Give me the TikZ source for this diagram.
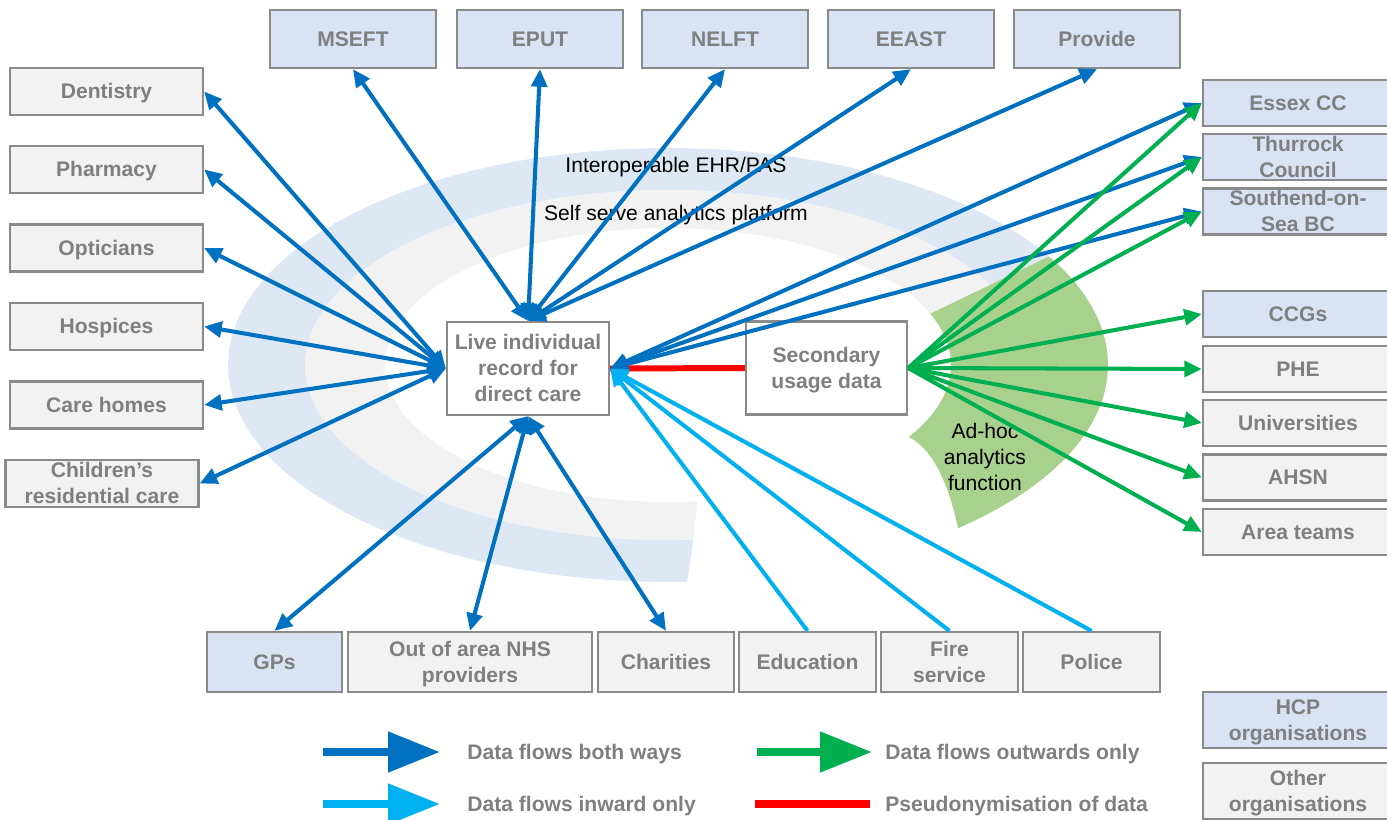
\documentclass[tikz,border=0pt]{standalone}
\usepackage{fontspec}
\setmainfont{Liberation Sans}
\usetikzlibrary{arrows.meta}
\newlength{\pu}\setlength{\pu}{0.02cm}
\newcommand{\lnstrut}{\rule[-0.212em]{0pt}{1.117em}}
\definecolor{hcpfill}{HTML}{DAE3F3}
\definecolor{othfill}{HTML}{F2F2F2}
\definecolor{boxline}{HTML}{8A8A8A}
\definecolor{boxtext}{HTML}{7F7F7F}
\definecolor{flowblue}{HTML}{0070C0}
\definecolor{flowcyan}{HTML}{00B0F0}
\definecolor{flowgreen}{HTML}{00B050}
\definecolor{pseudored}{HTML}{FF0000}
\definecolor{bandblue}{HTML}{DEE8F5}
\definecolor{bandgray}{HTML}{F2F2F2}
\definecolor{adhoc}{HTML}{A9D18E}
\tikzset{
  ppt/.style={execute at begin node=\lnstrut, execute at end node=\lnstrut},
  org/.style={ppt, draw=boxline, line width=1.3pt, inner xsep=0pt, inner ysep=-2pt,
              align=center, text=boxtext, font=\bfseries\fontsize{12}{14.8}\selectfont},
  hcp/.style={org, fill=hcpfill},
  other/.style={org, fill=othfill},
  core/.style={org, fill=white, minimum width=162\pu, minimum height=93\pu},
  toprow/.style={minimum width=166\pu, minimum height=58\pu},
  leftcol/.style={minimum width=193\pu, minimum height=47\pu},
  rightcol/.style={minimum width=190\pu, minimum height=46\pu},
  botrow/.style={minimum height=60\pu},
  both/.style={flowblue, line width=2.3pt, <->},
  inward/.style={flowcyan, line width=2.3pt, ->},
  outward/.style={flowgreen, line width=2.3pt, ->},
  pseudo/.style={pseudored, line width=3.4pt},
  keyarrow/.style={line width=0.16cm, -{Triangle[length=1.04cm,width=0.78cm]}},
  note/.style={ppt, align=center, inner sep=0pt, font=\fontsize{12}{14.8}\selectfont},
  keytext/.style={ppt, anchor=west, inner sep=0pt, text=boxtext,
                  font=\bfseries\fontsize{12}{14.8}\selectfont}
}
\begin{document}
\begin{tikzpicture}[x=\pu, y=-\pu, >={Triangle[length=10pt,width=9pt]}]
\useasboundingbox (0,0) rectangle (1387,819);

% background rings
\fill[bandblue] plot[domain=10:272.5, samples=80] ({668+440*cos(\x)},{365-217*sin(\x)})
  -- plot[domain=274:10, samples=80] ({668+363*cos(\x)},{365-175*sin(\x)}) -- cycle;
\fill[bandgray] plot[domain=10:274, samples=80] ({668+363*cos(\x)},{365-175*sin(\x)})
  -- plot[domain=276:10, samples=80] ({668+283*cos(\x)},{365-137*sin(\x)}) -- cycle;
\fill[adhoc] plot[domain=22:-31.7, samples=40] ({668+283*cos(\x)},{365-137*sin(\x)})
  .. controls (935,450) and (950,490) .. (958,528)
  -- plot[domain=-48.7:30, samples=50] ({668+440*cos(\x)},{365-217*sin(\x)}) -- cycle;

\node[note] (ehr) at (676,165) {Interoperable EHR/PAS};
\node[note] (ssap) at (676,213) {Self serve analytics platform};
\node[note] (adhoctxt) at (985,457) {\lnstrut Ad-hoc\\analytics\\function\lnstrut};

% top row
\node[hcp, toprow] (mseft) at (353,39) {MSEFT};
\node[hcp, toprow] (eput) at (540,39) {EPUT};
\node[hcp, toprow] (nelft) at (725,39) {NELFT};
\node[hcp, toprow] (eeast) at (911,39) {EEAST};
\node[hcp, toprow] (provide) at (1097,39) {Provide};

% left column
\node[other, leftcol] (dent) at (106.5,91.5) {Dentistry};
\node[other, leftcol] (pharm) at (106.5,169.5) {Pharmacy};
\node[other, leftcol] (optic) at (106.5,248) {Opticians};
\node[other, leftcol] (hosp) at (106.5,326.5) {Hospices};
\node[other, leftcol] (care) at (106.5,405) {Care homes};
\node[other, leftcol] (child) at (102,483.5) {\lnstrut Children’s\\residential care\lnstrut};

% right column
\node[hcp, rightcol] (essex) at (1298,103) {Essex CC};
\node[hcp, rightcol] (thur) at (1298,157) {\lnstrut Thurrock\\Council\lnstrut};
\node[hcp, rightcol] (south) at (1298,211.5) {\lnstrut Southend-on-\\Sea BC\lnstrut};
\node[hcp, rightcol] (ccg) at (1298,314) {CCGs};
\node[other, rightcol] (phe) at (1298,369) {PHE};
\node[other, rightcol] (uni) at (1298,423) {Universities};
\node[other, rightcol] (ahsn) at (1298,477.5) {AHSN};
\node[other, rightcol] (area) at (1298,532) {Area teams};

% bottom row
\node[hcp, botrow, minimum width=135\pu] (gps) at (274.5,662) {GPs};
\node[other, botrow, minimum width=244\pu] (oan) at (470,662) {\lnstrut Out of area NHS\\providers\lnstrut};
\node[other, botrow, minimum width=136\pu] (char) at (666,662) {Charities};
\node[other, botrow, minimum width=137\pu] (edu) at (807.5,662) {Education};
\node[other, botrow, minimum width=137\pu] (fire) at (949.5,662) {\lnstrut Fire\\service\lnstrut};
\node[other, botrow, minimum width=137\pu] (police) at (1091.5,662) {Police};

% centre
\node[core] (live) at (528,368.5) {\lnstrut Live individual\\record for\\direct care\lnstrut};
\node[core, minimum width=161\pu] (sec) at (826.5,368) {\lnstrut Secondary\\usage data\lnstrut};

% flows
\draw[pseudo] (live.east) -- (sec.west);
\foreach \o in {dent,pharm,optic,hosp,care,child}
  \draw[both] (live.west) -- (\o.east);
\foreach \o in {mseft,eput,nelft,eeast,provide}
  \draw[both] (live.north) -- (\o.south);
\foreach \o in {essex,thur,south}
  \draw[both] (live.east) -- (\o.west);
\foreach \o in {gps,oan,char}
  \draw[both] (live.south) -- (\o.north);
\foreach \o in {edu,fire,police}
  \draw[inward] (\o.north) -- (live.east);
\foreach \o in {essex,thur,south,ccg,phe,uni,ahsn,area}
  \draw[outward] (sec.east) -- (\o.west);

% key
\node[hcp, rightcol, minimum height=56\pu] (hcpkey) at (1298,720) {\lnstrut HCP\\organisations\lnstrut};
\node[other, rightcol, minimum height=56\pu] (othkey) at (1298,791) {\lnstrut Other\\organisations\lnstrut};
\coordinate (kboth1) at (323,752);  \coordinate (kboth2) at (440,752);
\coordinate (kin1) at (323,804);    \coordinate (kin2) at (440,804);
\coordinate (kout1) at (757,752);   \coordinate (kout2) at (872,752);
\coordinate (kred1) at (755,804);   \coordinate (kred2) at (870,804);
\draw[keyarrow, flowblue] (kboth1) -- (kboth2);
\draw[keyarrow, flowcyan] (kin1) -- (kin2);
\draw[keyarrow, flowgreen] (kout1) -- (kout2);
\draw[pseudored, line width=0.16cm] (kred1) -- (kred2);
\node[keytext] (kbothtxt) at (467,752) {Data flows both ways};
\node[keytext] (kintxt) at (467,804) {Data flows inward only};
\node[keytext] (kouttxt) at (885,752) {Data flows outwards only};
\node[keytext] (kredtxt) at (885,804) {Pseudonymisation of data};
\end{tikzpicture}
\end{document}
